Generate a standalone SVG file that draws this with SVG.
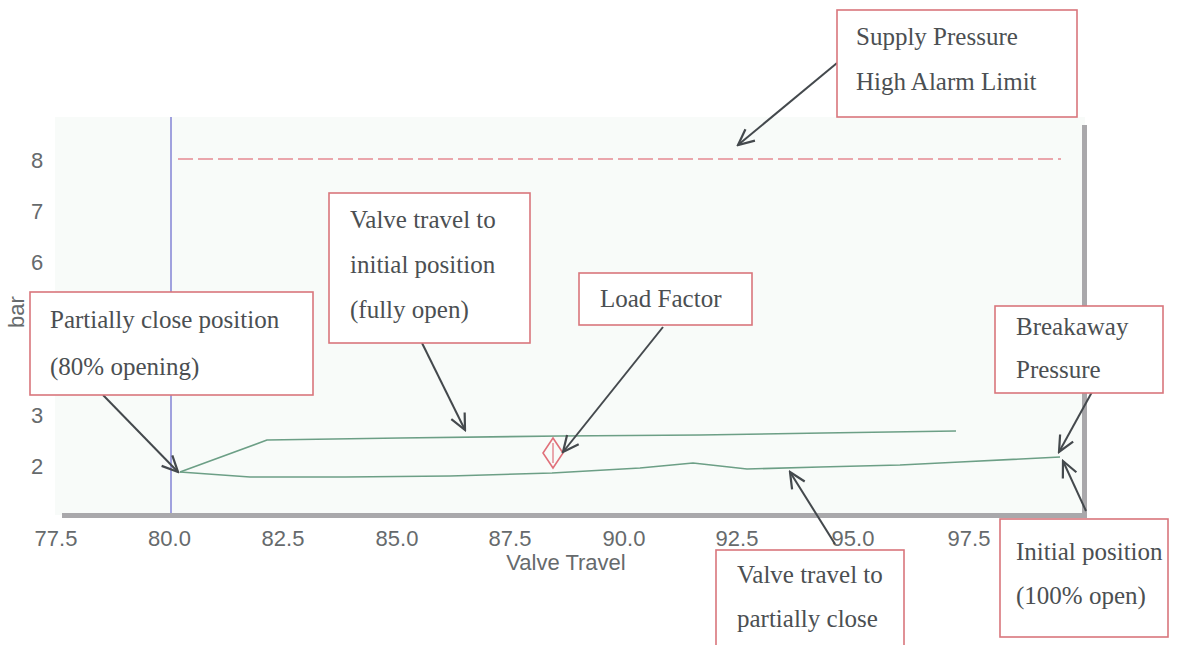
<svg xmlns="http://www.w3.org/2000/svg" width="1182" height="645" viewBox="0 0 1182 645">
  <style>
    .box { fill: #ffffff; stroke: #d9767c; stroke-width: 1.6; }
    .note { font-family: "Liberation Serif", "Times New Roman", serif; font-size: 25px; fill: #4b4f52; }
    .tick { font-family: "Liberation Sans", Arial, sans-serif; font-size: 22px; fill: #666a6c; }
    .curve { fill: none; stroke: #6c9f86; stroke-width: 1.6; stroke-linejoin: round; }
    .lead { fill: none; stroke: #44494d; stroke-width: 2; }
  </style>
  <defs>
    <marker id="vhead" viewBox="0 0 12 12" refX="11" refY="6" markerWidth="19" markerHeight="19" markerUnits="userSpaceOnUse" orient="auto">
      <path d="M1,1.3 L11,6 L1,10.7" fill="none" stroke="#44494d" stroke-width="1.4" stroke-linejoin="miter"/>
    </marker>
  </defs>

  <rect width="1182" height="645" fill="#ffffff"/>

  <!-- plot area -->
  <g id="chart">
    <rect x="55" y="117" width="1030" height="398" fill="#f8fbf9"/>
    <!-- cursor line at 80 % travel -->
    <line x1="171" y1="117" x2="171" y2="515" stroke="#7070d0" stroke-width="1.3"/>
    <!-- supply pressure high alarm limit -->
    <line x1="178" y1="159" x2="1061" y2="159" stroke="#e58a93" stroke-width="1.4" stroke-dasharray="15 5"/>
    <!-- axes frame -->
    <line x1="62" y1="515.5" x2="1087" y2="515.5" stroke="#a9a8ab" stroke-width="5"/>
    <line x1="1084.5" y1="125" x2="1084.5" y2="518" stroke="#a9a8ab" stroke-width="5"/>

    <!-- pressure traces -->
    <path class="curve" d="M180,472 L267,440 L400,438 L560,436 L700,435 L823,433 L956,431"/>
    <path class="curve" d="M180,472 L250,477 L345,477 L450,476 L552,473 L640,468 L693,463 L720,466 L747,469 L820,467 L900,465 L960,462 L1060,457"/>

    <!-- load factor marker -->
    <path d="M553,438 L563,453 L553,468 L543,453 Z" fill="none" stroke="#e0707a" stroke-width="1.6"/>
    <line x1="553" y1="443" x2="553" y2="463" stroke="#e0707a" stroke-width="1.2"/>

    <!-- y axis -->
    <text class="tick" x="37" y="168" text-anchor="middle">8</text>
    <text class="tick" x="37" y="219" text-anchor="middle">7</text>
    <text class="tick" x="37" y="270" text-anchor="middle">6</text>
    <text class="tick" x="37" y="423" text-anchor="middle">3</text>
    <text class="tick" x="37" y="474" text-anchor="middle">2</text>
    <text class="tick" x="0" y="0" text-anchor="middle" transform="translate(24,312) rotate(-90)">bar</text>

    <!-- x axis -->
    <text class="tick" x="56" y="546" text-anchor="middle">77.5</text>
    <text class="tick" x="169.5" y="546" text-anchor="middle">80.0</text>
    <text class="tick" x="283" y="546" text-anchor="middle">82.5</text>
    <text class="tick" x="397" y="546" text-anchor="middle">85.0</text>
    <text class="tick" x="510" y="546" text-anchor="middle">87.5</text>
    <text class="tick" x="624" y="546" text-anchor="middle">90.0</text>
    <text class="tick" x="737" y="546" text-anchor="middle">92.5</text>
    <text class="tick" x="853" y="546" text-anchor="middle">95.0</text>
    <text class="tick" x="969" y="546" text-anchor="middle">97.5</text>
    <text class="tick" x="566" y="570" text-anchor="middle">Valve Travel</text>
  </g>

  <!-- callout leaders -->
  <g id="connectors">
    <line class="lead" x1="837" y1="63" x2="738" y2="145" marker-end="url(#vhead)"/>
    <line class="lead" x1="422" y1="343" x2="465" y2="430" marker-end="url(#vhead)"/>
    <line class="lead" x1="663" y1="327" x2="563" y2="452" marker-end="url(#vhead)"/>
    <line class="lead" x1="103" y1="395" x2="178" y2="472" marker-end="url(#vhead)"/>
    <line class="lead" x1="1092" y1="392" x2="1059" y2="452" marker-end="url(#vhead)"/>
    <line class="lead" x1="1086" y1="511" x2="1063" y2="461" marker-end="url(#vhead)"/>
    <line class="lead" x1="835" y1="544" x2="790" y2="472" marker-end="url(#vhead)"/>
  </g>

  <g id="supply-pressure">
    <rect class="box" x="837" y="10" width="240" height="107"/>
    <text class="note" x="856" y="45">Supply Pressure</text>
    <text class="note" x="856" y="90">High Alarm Limit</text>
  </g>

  <g id="travel-to-initial">
    <rect class="box" x="329" y="193" width="201" height="150"/>
    <text class="note" x="350" y="228">Valve travel to</text>
    <text class="note" x="350" y="273">initial position</text>
    <text class="note" x="350" y="318">(fully open)</text>
  </g>

  <g id="load-factor">
    <rect class="box" x="579" y="273" width="173" height="52"/>
    <text class="note" x="600" y="307">Load Factor</text>
  </g>

  <g id="partially-close-position">
    <rect class="box" x="30" y="292" width="283" height="103"/>
    <text class="note" x="50" y="328">Partially close position</text>
    <text class="note" x="50" y="375">(80% opening)</text>
  </g>

  <g id="breakaway-pressure">
    <rect class="box" x="995" y="306" width="168" height="87"/>
    <text class="note" x="1016" y="335">Breakaway</text>
    <text class="note" x="1016" y="378">Pressure</text>
  </g>

  <g id="initial-position">
    <rect class="box" x="1000" y="519" width="168" height="118"/>
    <text class="note" x="1016" y="560">Initial position</text>
    <text class="note" x="1016" y="604">(100% open)</text>
  </g>

  <g id="travel-to-partial">
    <rect class="box" x="716" y="550" width="188" height="100"/>
    <text class="note" x="737" y="583">Valve travel to</text>
    <text class="note" x="737" y="627">partially close</text>
  </g>
</svg>
